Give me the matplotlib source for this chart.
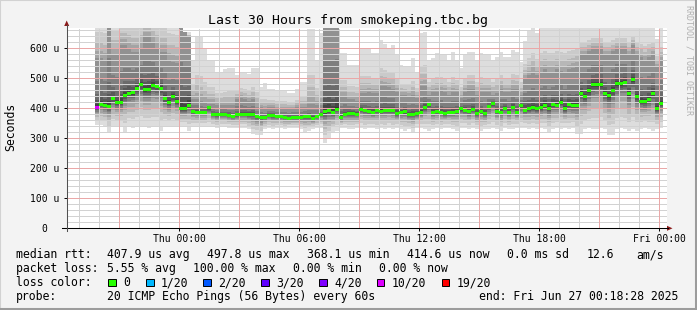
import numpy as np
import matplotlib
matplotlib.use('Agg')
import matplotlib.pyplot as plt
from matplotlib.patches import Rectangle, Polygon
from matplotlib.lines import Line2D

plt.rcParams['font.family'] = ['DejaVu Sans Mono']

W, H = 697, 310

# hours relative to Thu 00:00, one value per 12 minute step
t_start = -4.2
step_h = 0.2

# median rtt (us) per step
median_us = [
    402, 414, 410, 405, 432, 418, 421, 443, 451, 452, 467, 480, 462, 464, 477, 473, 465, 432, 418, 438,
    424, 398, 398, 411, 390, 387, 387, 387, 402, 380, 379, 381, 380, 377, 374,
    378, 380, 380, 380, 380, 373, 369, 369, 376, 376, 372, 372, 370, 367, 370, 368, 369, 372, 372, 367,
    372, 380, 388, 393, 385, 397, 370, 380, 384, 383, 380, 397, 394, 391, 387, 393,
    391, 394, 394, 394, 383, 385, 389, 378, 380, 383, 387, 403, 414, 387, 391, 387, 383, 387, 387, 391,
    398, 394, 389, 397, 384, 391, 382, 405, 417, 391, 387, 400, 387, 404, 387, 409,
    394, 398, 402, 398, 402, 410, 398, 414, 411, 420, 398, 414, 408, 411, 450, 439, 458, 478, 480, 480,
    451, 442, 461, 483, 483, 487, 449, 497, 439, 424, 422, 431, 449, 398, 415,
]
# lost pings out of 20 per step
loss = [10] + [0] * 141

# slowest ping per step (us)
ping_top = [
    800, 800, 800, 800, 800, 800, 800, 800, 800, 800, 800, 800, 800, 800, 800, 800, 800, 800, 800, 800,
    800, 700, 655, 655, 561, 641, 641, 600, 561, 561, 522, 522, 530, 534, 534,
    511, 522, 522, 515, 535, 535, 472, 483, 466, 466, 461, 461, 461, 450, 450, 466, 489, 489, 666, 666,
    561, 650, 800, 800, 800, 800, 583, 583, 544, 544, 544, 600, 600, 597, 583, 583,
    628, 615, 600, 611, 578, 544, 540, 540, 567, 522, 650, 655, 561, 567, 583, 578, 578, 561, 589, 561,
    533, 578, 589, 589, 561, 583, 578, 578, 561, 572, 589, 572, 572, 594, 589, 556,
    625, 660, 690, 650, 690, 690, 690, 690, 690, 690, 690, 690, 690, 690, 690, 690, 690, 690, 690, 690,
    690, 690, 690, 690, 690, 690, 690, 690, 690, 690, 690, 690, 690, 630, 680,
]
# level reached by the 15th of 20 pings (us)
ping_upper = [
    567, 567, 560, 700, 578, 578, 611, 611, 600, 589, 589, 600, 640, 640, 620, 600, 589, 589, 560, 556,
    550, 680, 680, 640, 430, 430, 425, 420, 415, 415, 410, 410, 410, 410, 410,
    430, 435, 430, 425, 430, 405, 405, 400, 405, 405, 400, 400, 400, 400, 400, 405, 405, 405, 415, 415,
    410, 410, 700, 700, 700, 700, 440, 440, 430, 430, 425, 450, 450, 455, 450, 450,
    475, 475, 470, 465, 455, 445, 445, 440, 445, 435, 475, 475, 445, 455, 455, 460, 455, 445, 455, 455,
    435, 455, 465, 465, 445, 455, 455, 455, 445, 450, 465, 455, 455, 465, 465, 445,
    500, 510, 520, 510, 520, 530, 520, 520, 530, 525, 520, 530, 535, 540, 580, 580, 590, 600, 600, 600,
    580, 580, 590, 600, 600, 600, 580, 610, 580, 570, 560, 570, 580, 540, 560,
]
# fastest ping per step (us)
ping_bottom = [
    344, 344, 340, 322, 340, 340, 338, 322, 338, 335, 338, 340, 338, 336, 338, 338, 325, 340, 340, 340,
    338, 339, 339, 325, 340, 340, 340, 340, 340, 338, 335, 338, 338, 336, 336,
    335, 335, 335, 330, 315, 311, 311, 330, 335, 330, 335, 335, 330, 335, 335, 335, 330, 320, 325, 330,
    335, 335, 284, 300, 320, 325, 335, 335, 330, 330, 335, 335, 330, 335, 335, 330,
    335, 330, 335, 330, 335, 330, 325, 330, 320, 335, 335, 330, 325, 330, 335, 330, 335, 335, 330, 325,
    335, 335, 330, 335, 330, 325, 330, 330, 335, 330, 325, 335, 330, 330, 335, 335,
    335, 330, 335, 330, 335, 330, 320, 330, 335, 330, 335, 330, 335, 315, 315, 330, 335, 330, 330, 335,
    330, 310, 310, 330, 335, 330, 325, 330, 325, 330, 335, 330, 325, 330, 335,
]

x_ticks = [0, 6, 12, 18, 24]
x_labels = ['Thu 00:00', 'Thu 06:00', 'Thu 12:00', 'Thu 18:00', 'Fri 00:00']
y_ticks = [0, 100, 200, 300, 400, 500, 600]
y_labels = ['0  ', '100 u', '200 u', '300 u', '400 u', '500 u', '600 u']

loss_names = ['0', '1/20', '2/20', '3/20', '4/20', '10/20', '19/20']
loss_levels = [0, 1, 2, 3, 4, 10, 19]
loss_colors = ['#26ff00', '#00b8ff', '#0059ff', '#5e00ff', '#7e00ff', '#dd00ff', '#ff0000']


def fx(px):
    return px / W


def fy(py):
    return 1 - py / H


fig = plt.figure(figsize=(W / 100, H / 100), dpi=100)
fig.patch.set_facecolor('#f3f3f3')
ax = fig.add_axes([fx(66.7), fy(228.3), 600 / W, 200.3 / H])
ax.set_facecolor('white')
ax.set_xlim(-5.633, 24.367)
ax.set_ylim(0, 668)
for s in ax.spines.values():
    s.set_visible(False)

n = len(median_us)
t = t_start + step_h * np.arange(n)
xe = np.append(t, t[-1] + step_h)

med = np.array(median_us, float)
top = np.maximum(np.array(ping_top, float), med)
upq = np.clip(np.array(ping_upper, float), med, top)
bot = np.minimum(np.array(ping_bottom, float), med)

# smoke: 10 stacked bands, outer pair light, inner pair dark
low_frac = [0, 0.25, 0.45, 0.6, 0.7, 0.78, 0.85, 0.9, 0.95, 0.985]
lows = [bot + (med - bot) * f for f in low_frac]
ups = [med + (upq - med) * f for f in [0.02, 0.07, 0.15, 0.28, 0.55, 1.0]]
ups += [upq + (top - upq) * f for f in [0.1, 0.22, 0.38, 1.0]]
for j in range(10):
    g = int(190 / 10 * (9 - j)) + 50
    lo = lows[j]
    hi = ups[9 - j]
    ax.fill_between(xe, np.append(lo, lo[-1]), np.append(hi, hi[-1]), step='post',
                    color='#%02x%02x%02x' % (g, g, g), linewidth=0, zorder=1)

# grid, 1px dotted
dots = (0, (1, 1))
for h in range(-5, 25):
    if h % 3:
        ax.axvline(h, color='#d2d2d2', lw=0.72, ls=dots, zorder=2, antialiased=False)
for v in range(20, 668, 20):
    if v % 100:
        ax.axhline(v, color='#d2d2d2', lw=0.72, ls=dots, zorder=2, antialiased=False)
for h in range(-3, 25, 3):
    ax.axvline(h, color='#eaa8a8', lw=0.72, ls=dots, zorder=3, antialiased=False)
for v in range(100, 668, 100):
    ax.axhline(v, color='#eaa8a8', lw=0.72, ls=dots, zorder=3, antialiased=False)

# median with loss colour
def loss_color(k):
    c = loss_colors[0]
    for lvl, col in zip(loss_levels, loss_colors):
        if k >= lvl:
            c = col
    return c

ax.bar(t, 10, bottom=med - 5, width=step_h, align='edge',
       color=[loss_color(k) for k in loss], linewidth=0, zorder=5)

ax.set_xticks(x_ticks, x_labels)
ax.set_yticks(y_ticks, y_labels)
ax.tick_params(axis='both', length=2, width=0.7, colors='black', labelsize=7)
ax.tick_params(axis='y', pad=3.2)
ax.tick_params(axis='x', pad=2)

# axis lines and arrows
fig.add_artist(Line2D([fx(62), fx(668)], [fy(228.3), fy(228.3)], color='black', lw=0.75))
fig.add_artist(Line2D([fx(66.7), fx(66.7)], [fy(231), fy(25)], color='#505050', lw=0.75))
fig.add_artist(Polygon([(fx(667), fy(225.8)), (fx(672.5), fy(228.3)), (fx(667), fy(230.8))],
                       closed=True, transform=fig.transFigure, color='#8b1a1a', lw=0))
fig.add_artist(Polygon([(fx(64.2), fy(26)), (fx(66.7), fy(20.5)), (fx(69.2), fy(26))],
                       closed=True, transform=fig.transFigure, color='#8b1a1a', lw=0))

# texts
fig.text(fx(347.5), fy(24.3), 'Last 30 Hours from smokeping.tbc.bg', ha='center', va='baseline',
         fontsize=9.5)
fig.text(fx(10.5), fy(127), 'Seconds', rotation=90, ha='center', va='center', fontsize=8.3)
fig.text(fx(688.5), fy(60), 'RRDTOOL / TOBI OETIKER', rotation=270, ha='center', va='center',
         fontsize=6, color='#b0b0b0')

fs = 8.3
rows = [258.3, 272.3, 286.3, 300.3]
row1 = [(16, 'median rtt:'), (107, '407.9 us avg'), (207, '497.8 us max'), (307, '368.1 us min'),
        (407, '414.6 us now'), (507, '0.0 ms sd'), (587, '12.6'), (636, 'am/s')]
row2 = [(16, 'packet loss:'), (107, '5.55 % avg'), (193, '100.00 % max'), (293, '0.00 % min'),
        (379, '0.00 % now')]
row4 = [(16, 'probe:'), (107, '20 ICMP Echo Pings (56 Bytes) every 60s'),
        (479, 'end: Fri Jun 27 00:18:28 2025')]
for y, row in zip([rows[0], rows[1], rows[3]], [row1, row2, row4]):
    for x, s in row:
        fig.text(fx(x), fy(y), s, ha='left', va='baseline', fontsize=fs)

fig.text(fx(16), fy(rows[2]), 'loss color:', ha='left', va='baseline', fontsize=fs)
box_x = [108.3, 146, 203.3, 261, 319, 376.7, 441.7]
for bx, name, col in zip(box_x, loss_names, loss_colors):
    fig.add_artist(Rectangle((fx(bx), fy(286.3)), 7.5 / W, 7.7 / H, transform=fig.transFigure,
                             facecolor=col, edgecolor='black', lw=0.7))
    fig.text(fx(bx + 15), fy(rows[2]), name, ha='left', va='baseline', fontsize=fs)

# 3d frame
fig.add_artist(Line2D([0, 0], [0, 1], color='#d2d2d2', lw=1.5))
fig.add_artist(Line2D([0, 1], [1, 1], color='#d2d2d2', lw=1.5))
fig.add_artist(Line2D([fx(696), fx(696)], [0, 1], color='#9c9c9c', lw=2.2))
fig.add_artist(Line2D([0, 1], [fy(309), fy(309)], color='#9c9c9c', lw=2.2))

fig.savefig('out.png', dpi=100, facecolor=fig.get_facecolor())
